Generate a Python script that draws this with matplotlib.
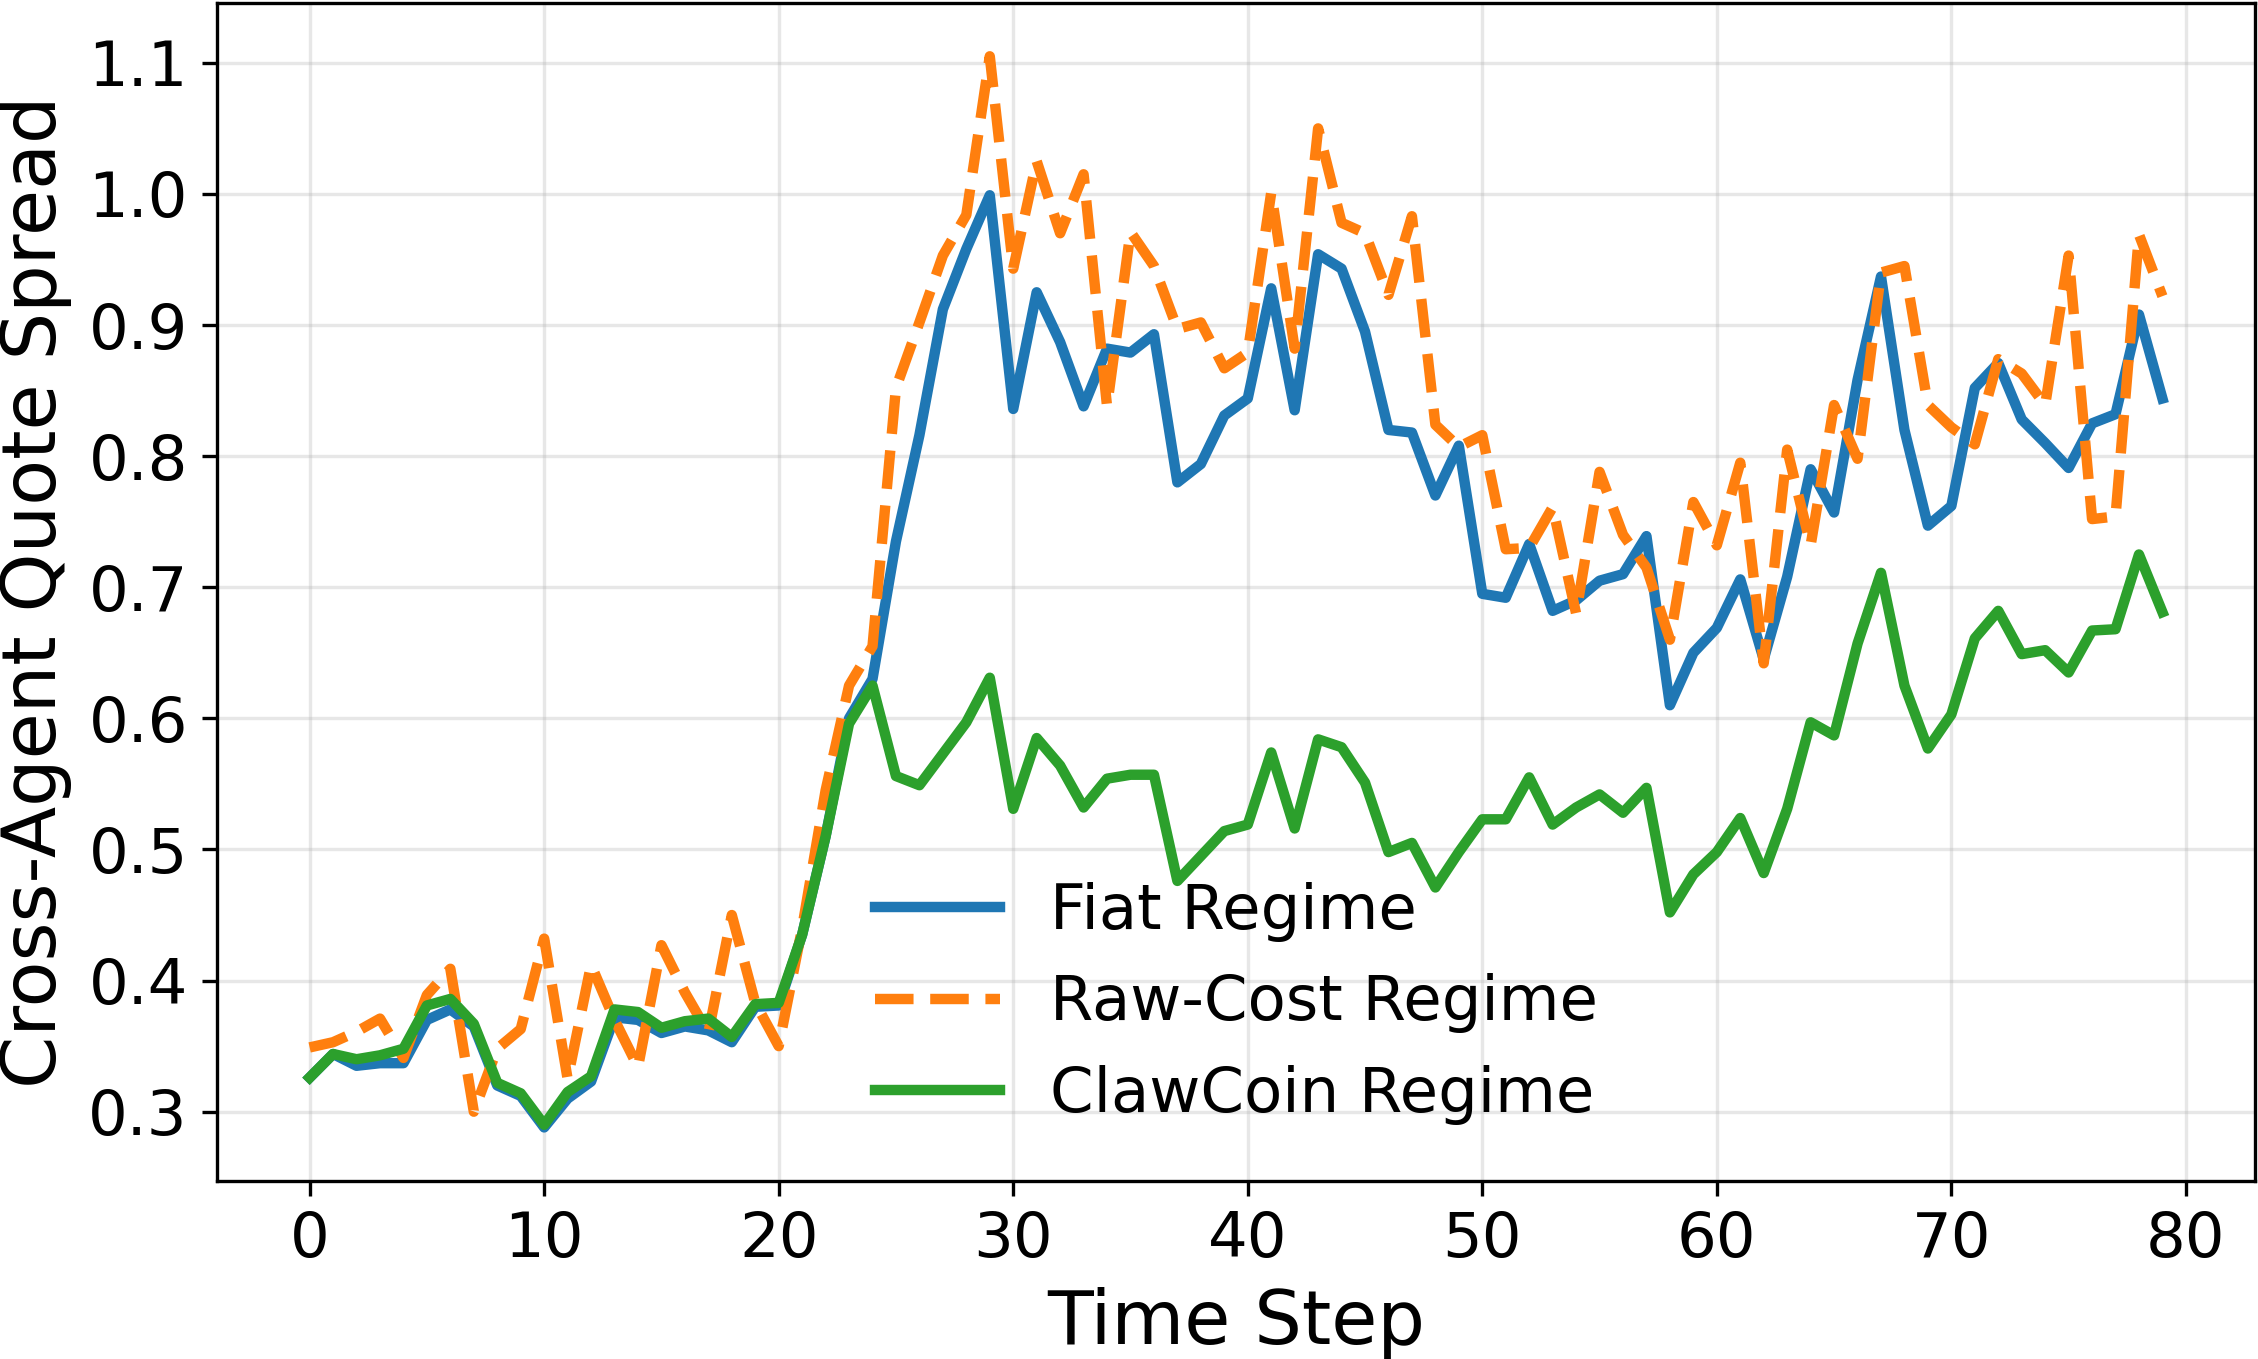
import numpy as np
import matplotlib
matplotlib.use("Agg")
import matplotlib.pyplot as plt

steps = list(range(80))

fiat = [0.326, 0.344, 0.335, 0.337, 0.337, 0.370, 0.378, 0.365, 0.320, 0.312,
        0.288, 0.310, 0.323, 0.372, 0.370, 0.360, 0.365, 0.362, 0.353, 0.380,
        0.381, 0.435, 0.510, 0.600, 0.630, 0.735, 0.816, 0.912, 0.958, 0.999,
        0.836, 0.925, 0.887, 0.838, 0.882, 0.879, 0.893, 0.780, 0.794, 0.831,
        0.844, 0.928, 0.835, 0.954, 0.943, 0.895, 0.820, 0.818, 0.770, 0.808,
        0.695, 0.692, 0.733, 0.682, 0.690, 0.705, 0.710, 0.739, 0.610, 0.650,
        0.669, 0.706, 0.645, 0.708, 0.790, 0.757, 0.858, 0.937, 0.820, 0.747,
        0.762, 0.852, 0.871, 0.828, 0.810, 0.791, 0.825, 0.832, 0.908, 0.844]

raw_cost = [0.349, 0.353, 0.361, 0.371, 0.341, 0.389, 0.409, 0.300, 0.348, 0.363,
            0.432, 0.325, 0.412, 0.370, 0.334, 0.427, 0.391, 0.360, 0.450, 0.383,
            0.350, 0.440, 0.545, 0.625, 0.655, 0.852, 0.902, 0.953, 0.984, 1.105,
            0.943, 1.025, 0.970, 1.015, 0.838, 0.971, 0.945, 0.897, 0.902, 0.867,
            0.879, 1.001, 0.882, 1.050, 0.978, 0.970, 0.923, 0.983, 0.824, 0.807,
            0.816, 0.729, 0.730, 0.761, 0.680, 0.788, 0.740, 0.715, 0.660, 0.765,
            0.732, 0.795, 0.642, 0.805, 0.732, 0.839, 0.798, 0.940, 0.945, 0.839,
            0.822, 0.809, 0.874, 0.863, 0.839, 0.953, 0.752, 0.754, 0.969, 0.922]

clawcoin = [0.326, 0.344, 0.340, 0.343, 0.348, 0.381, 0.386, 0.367, 0.322, 0.314,
            0.290, 0.315, 0.327, 0.378, 0.376, 0.364, 0.369, 0.371, 0.357, 0.382,
            0.383, 0.435, 0.510, 0.596, 0.625, 0.556, 0.549, 0.573, 0.597, 0.631,
            0.531, 0.585, 0.564, 0.532, 0.554, 0.557, 0.557, 0.476, 0.495, 0.514,
            0.519, 0.574, 0.516, 0.584, 0.578, 0.551, 0.498, 0.505, 0.471, 0.498,
            0.523, 0.523, 0.555, 0.519, 0.532, 0.542, 0.528, 0.547, 0.452, 0.481,
            0.498, 0.524, 0.482, 0.531, 0.597, 0.587, 0.657, 0.711, 0.625, 0.577,
            0.603, 0.661, 0.682, 0.649, 0.652, 0.635, 0.667, 0.668, 0.725, 0.681]

labels = ["Fiat Regime", "Raw-Cost Regime", "ClawCoin Regime"]
colors = ["#1f77b4", "#ff7f0e", "#2ca02c"]

fig = plt.figure(figsize=(2258 / 300, 1359 / 300), dpi=300)
ax = fig.add_axes([0.0961, 0.131, 0.9026, 0.867])

ax.plot(steps, fiat, color=colors[0], lw=2.5, ls="-", label=labels[0])
ax.plot(steps, raw_cost, color=colors[1], lw=2.5, ls="--", label=labels[1])
ax.plot(steps, clawcoin, color=colors[2], lw=2.5, ls="-", label=labels[2])

ax.grid(True, alpha=0.3)
ax.set_xlabel("Time Step", fontsize=18)
ax.set_ylabel("Cross-Agent Quote Spread", fontsize=18)
ax.tick_params(labelsize=15)
ax.set_xticks([0, 10, 20, 30, 40, 50, 60, 70, 80])
ax.set_yticks([0.3, 0.4, 0.5, 0.6, 0.7, 0.8, 0.9, 1.0, 1.1])
ax.legend(loc="lower center", frameon=False, fontsize=15)

fig.savefig("out.png", dpi=300)
